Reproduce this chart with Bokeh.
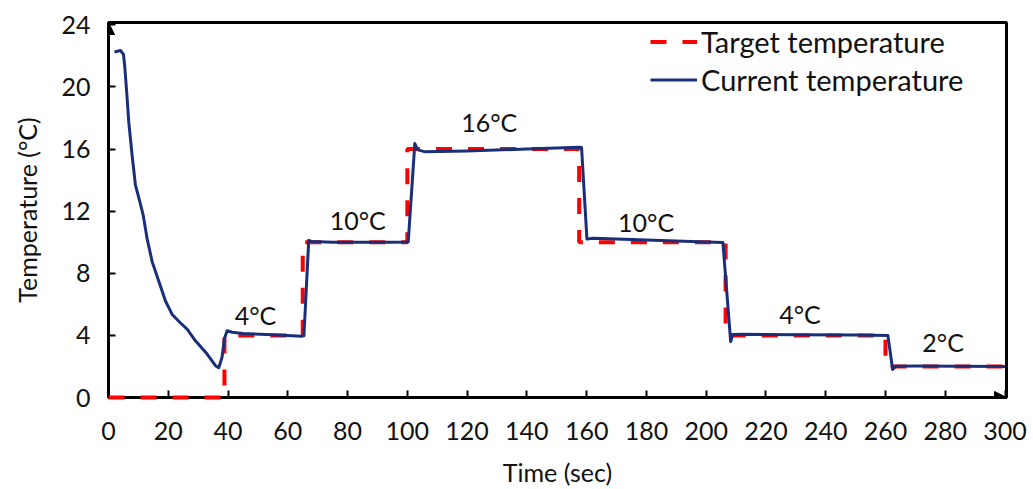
from bokeh.plotting import figure
from bokeh.models import Range1d, FixedTicker, Arrow, NormalHead, Legend, LegendItem
from bokeh.core.properties import value
from bokeh.embed import file_html
from bokeh.resources import INLINE

# Set-point profile of the controller (step changes)
target_time = [0, 38.8, 38.8, 65, 65, 100, 100, 157.5, 157.5, 206.5, 206.5, 260, 260, 300]
target_temp = [0, 0, 4, 4, 10, 10, 16, 16, 10, 10, 4, 4, 2, 2]

# Measured temperature of the sample
current_time = [2.0, 4.0, 5.0, 5.4, 6.0, 6.8, 7.9, 9.0, 10.5, 11.6, 12.9, 14.6, 16.8,
                19.1, 21.3, 24.1, 26.3, 29.1, 33.0, 35.8, 36.9, 38.0, 38.8, 39.7, 41.4,
                45, 53, 60, 64.5, 65.4, 67.0, 68.0, 75, 85, 95, 100.3,
                102.5, 103.5, 106, 120, 140, 157.5, 158.3, 160.1, 162, 170, 180, 195,
                205.6, 208.2, 208.9, 212, 230, 250, 260.8, 262.4, 263.5, 270, 285, 300]
current_temp = [22.25, 22.35, 22.1, 21.4, 19.9, 17.7, 15.6, 13.7, 12.6, 11.75, 10.25, 8.75, 7.5,
                6.2, 5.35, 4.8, 4.4, 3.65, 2.8, 2.05, 1.92, 2.6, 3.8, 4.3, 4.2,
                4.12, 4.06, 4.0, 3.95, 3.97, 10.12, 10.05, 10.0, 10.0, 10.0, 10.02,
                16.35, 15.95, 15.82, 15.88, 16.0, 16.12, 16.1, 10.2, 10.25, 10.2, 10.15, 10.05,
                9.98, 3.6, 4.05, 4.08, 4.04, 4.02, 4.0, 1.8, 2.02, 2.03, 2.02, 2.0]

# Set-point annotations
label_x = [49.2, 83.4, 127.4, 179.9, 231.4, 279.3]
label_y = [5.3, 11.4, 17.75, 11.3, 5.4, 3.55]
label_text = ["4°C", "10°C", "16°C", "10°C", "4°C", "2°C"]

x_ticks = list(range(0, 301, 20))
y_ticks = list(range(0, 25, 4))

FONT = "Lato"
INK = "#111111"

p = figure(width=1033, height=489, output_backend="svg", toolbar_location=None,
           x_range=Range1d(0, 300.5), y_range=Range1d(0, 24.15),
           min_border_left=108, min_border_right=27, min_border_top=22, min_border_bottom=92)

p.xgrid.visible = False
p.ygrid.visible = False
p.outline_line_color = "black"
p.outline_line_width = 3
p.outline_line_alpha = 1

for ax in (p.xaxis[0], p.yaxis[0]):
    ax.axis_line_color = "black"
    ax.axis_line_width = 3
    ax.major_tick_line_color = "black"
    ax.major_tick_line_width = 2
    ax.major_tick_in = 7
    ax.major_tick_out = 0
    ax.minor_tick_line_color = None
    ax.major_label_text_font = FONT
    ax.major_label_text_font_size = "25px"
    ax.major_label_text_color = INK
    ax.axis_label_text_font = FONT
    ax.axis_label_text_font_size = "25px"
    ax.axis_label_text_font_style = "normal"
    ax.axis_label_text_color = INK

p.xaxis.ticker = FixedTicker(ticks=x_ticks)
p.yaxis.ticker = FixedTicker(ticks=y_ticks)
p.xaxis.axis_label = "Time (sec)"
p.yaxis.axis_label = "Temperature (°C)"
p.xaxis.major_label_standoff = 24
p.yaxis.major_label_standoff = 18
p.xaxis.axis_label_standoff = 14
p.yaxis.axis_label_standoff = 16

r_target = p.line(target_time, target_temp, line_color="#ff0000", line_width=4,
                  line_dash="16 16", level="overlay")
r_current = p.line(current_time, current_temp, line_color="#1a2f7a", line_width=3,
                   line_join="round", level="overlay")

p.text(label_x, label_y, text=label_text, text_font=value(FONT), text_font_size="25px",
       text_color=INK, text_align="center", text_baseline="middle")

# Arrow heads at the ends of both axes
head = dict(size=12, fill_color="black", line_color="black", line_width=1)
p.add_layout(Arrow(end=NormalHead(**head), x_start=0, y_start=23.0, x_end=0, y_end=24.15,
                   line_width=3, line_color="black"))
p.add_layout(Arrow(end=NormalHead(**head), x_start=290, y_start=0, x_end=300.5, y_end=0,
                   line_width=3, line_color="black"))

legend = Legend(items=[LegendItem(label="Target temperature", renderers=[r_target]),
                       LegendItem(label="Current temperature", renderers=[r_current])],
                location=(542, 300), padding=0, margin=0, spacing=3,
                glyph_width=47, glyph_height=35, label_height=35, label_standoff=4,
                label_text_font=FONT, label_text_font_size="29px", label_text_color=INK,
                border_line_alpha=0, background_fill_alpha=0)
p.add_layout(legend)

open("out.html", "w").write(file_html(p, INLINE))
